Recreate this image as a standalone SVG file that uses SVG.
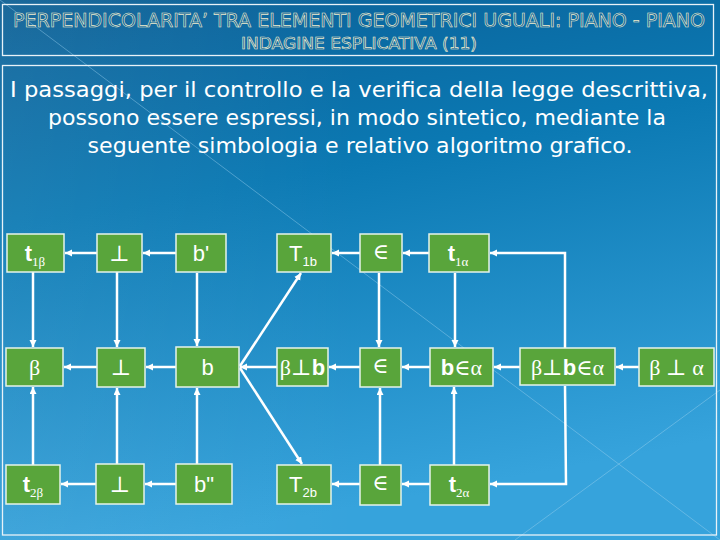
<svg xmlns="http://www.w3.org/2000/svg" width="720" height="540" viewBox="0 0 720 540">
<defs>
<linearGradient id="bg" x1="0" y1="0" x2="0.25" y2="1">
<stop offset="0" stop-color="#0a5d92"/>
<stop offset="0.12" stop-color="#0b679f"/>
<stop offset="0.4" stop-color="#0b79b3"/>
<stop offset="1" stop-color="#36a3dc"/>
</linearGradient>
<linearGradient id="lt" x1="0" y1="0" x2="1" y2="0">
<stop offset="0" stop-color="#ffffff" stop-opacity="0.07"/>
<stop offset="0.5" stop-color="#ffffff" stop-opacity="0"/>
</linearGradient>
<marker id="ah" markerWidth="10" markerHeight="10" refX="7" refY="3.5" orient="auto" markerUnits="userSpaceOnUse">
<path d="M0,0 L7,3.5 L0,7 z" fill="#ffffff"/>
</marker>
<style>
.frame{fill:none;stroke:#e8f2f8;stroke-width:1.3}
.deco{stroke:#9fd3f0;stroke-width:0.8;stroke-opacity:0.55;fill:none}
.ttl{font-family:"DejaVu Sans","Liberation Sans",sans-serif;fill:#0b6096;stroke:#f3efcf;stroke-width:0.6;text-anchor:middle}
.body{font-family:"DejaVu Sans","Liberation Sans",sans-serif;fill:#ffffff;font-size:22px;text-anchor:middle}
.box{fill:#59a53b;stroke:#e6f3ea;stroke-width:1.5}
.lbl{font-family:"Liberation Sans",Arial,sans-serif;fill:#ffffff;font-size:22px;text-anchor:middle}
.sym{font-family:"Liberation Serif","DejaVu Serif",serif;fill:#ffffff;font-size:22px;text-anchor:middle}
.sub{font-size:13px}
.c{fill:none;stroke:#ffffff;stroke-width:2.5}
.a{marker-end:url(#ah)}
</style>
</defs>
<rect width="720" height="540" fill="url(#bg)"/>
<rect width="720" height="540" fill="url(#lt)"/>
<line class="deco" x1="0" y1="0" x2="720" y2="540"/>
<line class="deco" x1="515" y1="540" x2="720" y2="390"/>
<rect class="frame" x="2.5" y="4.5" width="711" height="51"/>
<rect class="frame" x="2.5" y="65.5" width="714" height="469.5"/>
<text class="ttl" x="359" y="27" font-size="19" textLength="692" lengthAdjust="spacingAndGlyphs">PERPENDICOLARITA’ TRA ELEMENTI GEOMETRICI UGUALI: PIANO - PIANO</text>
<text class="ttl" x="359" y="49" font-size="15" textLength="236" lengthAdjust="spacingAndGlyphs">INDAGINE ESPLICATIVA (11)</text>
<text class="body" x="359" y="97" textLength="698" lengthAdjust="spacingAndGlyphs">I passaggi, per il controllo e la verifica della legge descrittiva,</text>
<text class="body" x="357" y="125" textLength="618" lengthAdjust="spacingAndGlyphs">possono essere espressi, in modo sintetico, mediante la</text>
<text class="body" x="360" y="153" textLength="545" lengthAdjust="spacingAndGlyphs">seguente simbologia e relativo algoritmo grafico.</text>

<g id="connectors">
<line class="c a" x1="97" y1="253" x2="65" y2="253"/>
<line class="c a" x1="176" y1="253" x2="143" y2="253"/>
<line class="c a" x1="360" y1="253" x2="332" y2="253"/>
<line class="c a" x1="429" y1="253" x2="403" y2="253"/>
<polyline class="c a" points="565,348 565,253 490,253"/>
<line class="c a" x1="33" y1="272" x2="33" y2="347"/>
<line class="c a" x1="117" y1="272" x2="117" y2="347"/>
<line class="c a" x1="197" y1="273" x2="197" y2="346"/>
<line class="c a" x1="379" y1="273" x2="379" y2="347"/>
<line class="c a" x1="455" y1="273" x2="455" y2="347"/>
<line class="c a" x1="97" y1="367" x2="64" y2="367"/>
<line class="c a" x1="176" y1="367" x2="146" y2="367"/>
<line class="c a" x1="277" y1="367" x2="240" y2="367"/>
<line class="c a" x1="360" y1="367" x2="329" y2="367"/>
<line class="c a" x1="430" y1="367" x2="402" y2="367"/>
<line class="c a" x1="520" y1="367" x2="494" y2="367"/>
<line class="c a" x1="639" y1="367" x2="616" y2="367"/>
<line class="c a" x1="240" y1="366" x2="301" y2="273"/>
<line class="c a" x1="240" y1="368" x2="302" y2="464"/>
<line class="c a" x1="33" y1="465" x2="33" y2="387"/>
<line class="c a" x1="117" y1="464" x2="117" y2="388"/>
<line class="c a" x1="197" y1="464" x2="197" y2="388"/>
<line class="c a" x1="380" y1="465" x2="380" y2="388"/>
<line class="c a" x1="454" y1="465" x2="454" y2="387"/>
<line class="c a" x1="96" y1="484" x2="61" y2="484"/>
<line class="c a" x1="176" y1="484" x2="145" y2="484"/>
<line class="c a" x1="360" y1="484" x2="332" y2="484"/>
<line class="c a" x1="430" y1="484" x2="402" y2="484"/>
<polyline class="c a" points="565,386 566,484 490,484"/>
</g>

<g id="t1beta"><rect class="box" x="7" y="234" width="57" height="38"/><text class="lbl" x="35" y="261"><tspan font-weight="bold">t</tspan><tspan class="sub" dy="5" font-family="Liberation Serif">1β</tspan></text></g>
<g id="perp1"><rect class="box" x="97" y="234" width="45" height="38"/><text class="sym" x="119.5" y="261">⊥</text></g>
<g id="bprime"><rect class="box" x="176" y="234" width="50" height="38"/><text class="lbl" x="201" y="261">b'</text></g>
<g id="T1b"><rect class="box" x="277" y="234" width="54" height="38"/><text class="lbl" x="303" y="261">T<tspan class="sub" dy="5">1b</tspan></text></g>
<g id="in1"><rect class="box" x="360" y="234" width="42" height="38"/><text class="sym" x="381" y="259" font-size="18">∈</text></g>
<g id="t1alpha"><rect class="box" x="429" y="234" width="60" height="38"/><text class="lbl" x="458" y="261"><tspan font-weight="bold">t</tspan><tspan class="sub" dy="5" font-family="Liberation Serif">1α</tspan></text></g>

<g id="beta"><rect class="box" x="6" y="348" width="57" height="38"/><text class="sym" x="34.5" y="375" font-size="24">β</text></g>
<g id="perp2"><rect class="box" x="97" y="348" width="48" height="39"/><text class="sym" x="121" y="375">⊥</text></g>
<g id="b"><rect class="box" x="176" y="347" width="63" height="40"/><text class="lbl" x="207.5" y="375">b</text></g>
<g id="betaperpb"><rect class="box" x="277" y="348" width="51" height="38"/><text class="sym" x="302.5" y="375">β⊥<tspan font-family="Liberation Sans" font-weight="bold">b</tspan></text></g>
<g id="in2"><rect class="box" x="360" y="348" width="41" height="39"/><text class="sym" x="380.5" y="373" font-size="18">∈</text></g>
<g id="binalpha"><rect class="box" x="430" y="348" width="63" height="38"/><text class="sym" x="461.5" y="375"><tspan font-family="Liberation Sans" font-weight="bold">b</tspan>∈α</text></g>
<g id="betaperpbinalpha"><rect class="box" x="520" y="348" width="95" height="37"/><text class="sym" x="567.5" y="375">β⊥<tspan font-family="Liberation Sans" font-weight="bold">b</tspan>∈α</text></g>
<g id="betaperpalpha"><rect class="box" x="639" y="348" width="75" height="38"/><text class="sym" x="676.5" y="375">β ⊥ α</text></g>

<g id="t2beta"><rect class="box" x="6" y="465" width="54" height="39"/><text class="lbl" x="33" y="492"><tspan font-weight="bold">t</tspan><tspan class="sub" dy="5" font-family="Liberation Serif">2β</tspan></text></g>
<g id="perp3"><rect class="box" x="96" y="464" width="48" height="40"/><text class="sym" x="120" y="492">⊥</text></g>
<g id="bsecond"><rect class="box" x="176" y="464" width="56" height="40"/><text class="lbl" x="204" y="492">b"</text></g>
<g id="T2b"><rect class="box" x="277" y="465" width="54" height="39"/><text class="lbl" x="303" y="492">T<tspan class="sub" dy="5">2b</tspan></text></g>
<g id="in3"><rect class="box" x="360" y="465" width="41" height="40"/><text class="sym" x="380.5" y="490" font-size="18">∈</text></g>
<g id="t2alpha"><rect class="box" x="430" y="465" width="59" height="40"/><text class="lbl" x="459" y="492"><tspan font-weight="bold">t</tspan><tspan class="sub" dy="5" font-family="Liberation Serif">2α</tspan></text></g>
</svg>
